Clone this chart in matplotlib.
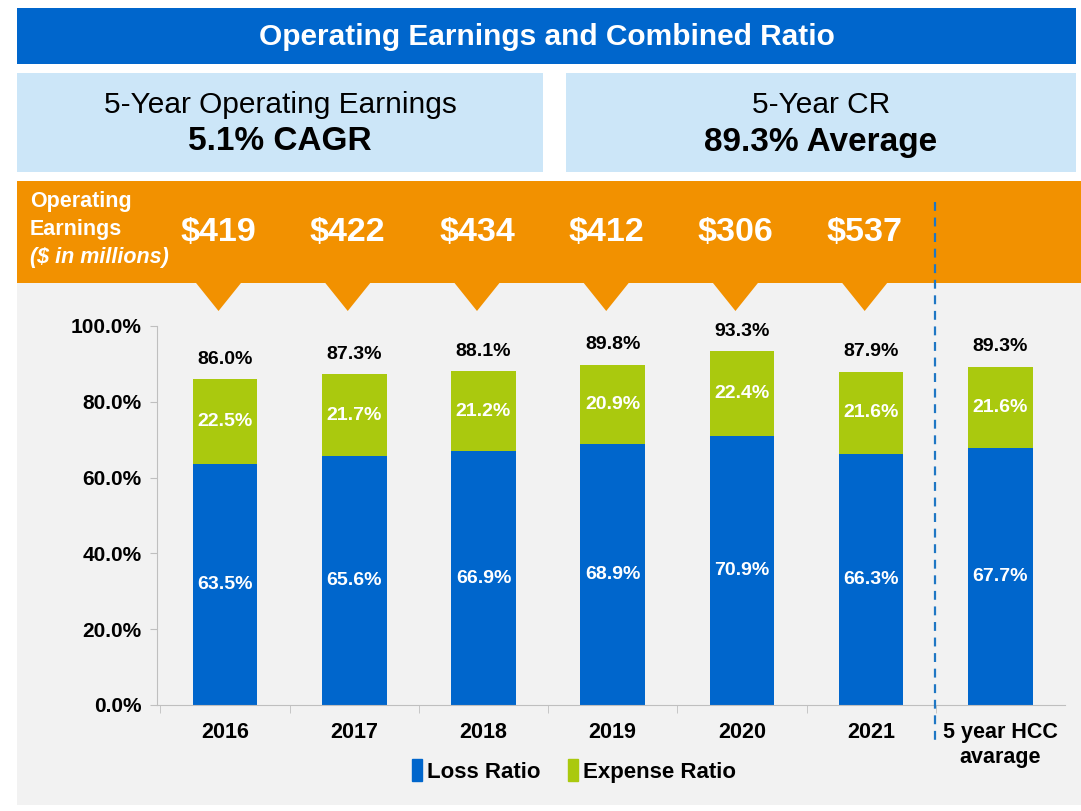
import numpy as np
import matplotlib
matplotlib.use('Agg')
import matplotlib.pyplot as plt
from matplotlib.patches import Rectangle, Polygon, Patch
from matplotlib.lines import Line2D
from matplotlib.transforms import blended_transform_factory

plt.rcParams['font.family'] = ['Liberation Sans', 'DejaVu Sans']

categories = ['2016', '2017', '2018', '2019', '2020', '2021', '5 year HCC\navarage']
loss_ratio = [63.5, 65.6, 66.9, 68.9, 70.9, 66.3, 67.7]
expense_ratio = [22.5, 21.7, 21.2, 20.9, 22.4, 21.6, 21.6]
combined_ratio = [86.0, 87.3, 88.1, 89.8, 93.3, 87.9, 89.3]
earnings = [419, 422, 434, 412, 306, 537]

BLUE = '#0066CC'
GREEN = '#AAC90E'
ORANGE = '#F29100'
LIGHT = '#CCE6F8'
GRAY = '#F2F2F2'

W, H = 1081, 811
fig = plt.figure(figsize=(W / 100, H / 100), dpi=100, facecolor='white')


def fx(px):
    return px / W


def fy(py):
    return 1 - py / H


def box(x0, y0, x1, y1, color):
    fig.add_artist(Rectangle((fx(x0), fy(y1)), fx(x1) - fx(x0), fy(y0) - fy(y1),
                             transform=fig.transFigure, color=color, zorder=-2, lw=0))


# header boxes
box(17, 8, 1076, 64, BLUE)
fig.text(fx(547), fy(37), 'Operating Earnings and Combined Ratio', color='white',
         fontsize=21.5, fontweight='bold', ha='center', va='center')
box(17, 73, 543, 172, LIGHT)
box(566, 73, 1076, 172, LIGHT)
fig.text(fx(280), fy(105), '5-Year Operating Earnings', fontsize=21.5, ha='center', va='center')
fig.text(fx(280), fy(142), '5.1% CAGR', fontsize=24, fontweight='bold', ha='center', va='center')
fig.text(fx(821), fy(105), '5-Year CR', fontsize=21.5, ha='center', va='center')
fig.text(fx(821), fy(143), '89.3% Average', fontsize=24, fontweight='bold', ha='center', va='center')

# orange band and gray background
box(17, 181, 1081, 283, ORANGE)
box(17, 283, 1081, 805, GRAY)
fig.text(fx(30), fy(202), 'Operating', color='white', fontsize=15.5, fontweight='bold', va='center')
fig.text(fx(30), fy(229), 'Earnings', color='white', fontsize=15.5, fontweight='bold', va='center')
fig.text(fx(30), fy(258), '($ in millions)', color='white', fontsize=15.5, fontweight='bold',
         style='italic', va='center')

# chart
ax = fig.add_axes([fx(157), fy(705), fx(1065) - fx(157), fy(326) - fy(705)])
ax.set_facecolor('none')
x = np.arange(len(categories))
bw = 0.5
ax.bar(x, loss_ratio, bw, color=BLUE, zorder=2)
ax.bar(x, expense_ratio, bw, bottom=loss_ratio, color=GREEN, zorder=2)
for i in range(len(x)):
    ax.text(x[i], loss_ratio[i] / 2, f'{loss_ratio[i]:.1f}%', color='white', fontsize=14,
            fontweight='bold', ha='center', va='center', zorder=3)
    ax.text(x[i], loss_ratio[i] + expense_ratio[i] / 2, f'{expense_ratio[i]:.1f}%', color='white',
            fontsize=14, fontweight='bold', ha='center', va='center', zorder=3)
    ax.text(x[i], combined_ratio[i] + 3.0, f'{combined_ratio[i]:.1f}%', color='black', fontsize=14,
            fontweight='bold', ha='center', va='bottom', zorder=3, clip_on=False)

ax.set_xlim(-0.526, 6.5)
ax.set_ylim(0, 100)
ax.set_yticks(np.arange(0, 101, 20))
ax.set_yticklabels([f'{v:.1f}%' for v in range(0, 101, 20)], fontsize=15, fontweight='bold')
ax.set_xticks(x)
ax.set_xticklabels(categories, fontsize=15.5, fontweight='bold', linespacing=1.25)
ax.set_xticks(np.arange(-0.5, 6.5, 1), minor=True)
ax.tick_params(axis='x', which='major', length=0, pad=12)
ax.tick_params(axis='x', which='minor', length=6, color='#BFBFBF', direction='out')
ax.tick_params(axis='y', length=5, color='#BFBFBF', pad=6)
for s in ['top', 'right']:
    ax.spines[s].set_visible(False)
ax.spines['left'].set_color('#BFBFBF')
ax.spines['bottom'].set_color('#BFBFBF')

# pointers and earnings labels
bt = blended_transform_factory(ax.transData, fig.transFigure)
for i, val in enumerate(earnings):
    c = x[i] - 0.05
    tri = Polygon([[c - 0.18, fy(282)], [c + 0.18, fy(282)], [c, fy(311)]],
                  closed=True, transform=bt, color=ORANGE, zorder=-1, lw=0)
    fig.add_artist(tri)
    fig.text(c, fy(232), f'${val}', transform=bt, color='white', fontsize=24.5,
             fontweight='bold', ha='center', va='center')

# divider
fig.add_artist(Line2D([fx(935), fx(935)], [fy(202), fy(742)], transform=fig.transFigure,
                      color='#1F77C4', lw=1.6, ls=(0, (4, 3))))

handles = [Patch(color=BLUE, label='Loss Ratio'), Patch(color=GREEN, label='Expense Ratio')]
fig.legend(handles=handles, loc='center', bbox_to_anchor=(fx(574), fy(771)), ncol=2,
           frameon=False, prop={'size': 16, 'weight': 'bold'}, handlelength=0.45,
           handleheight=1.1, handletextpad=0.25, columnspacing=1.2)

fig.savefig('out.png', dpi=100, facecolor='white')
